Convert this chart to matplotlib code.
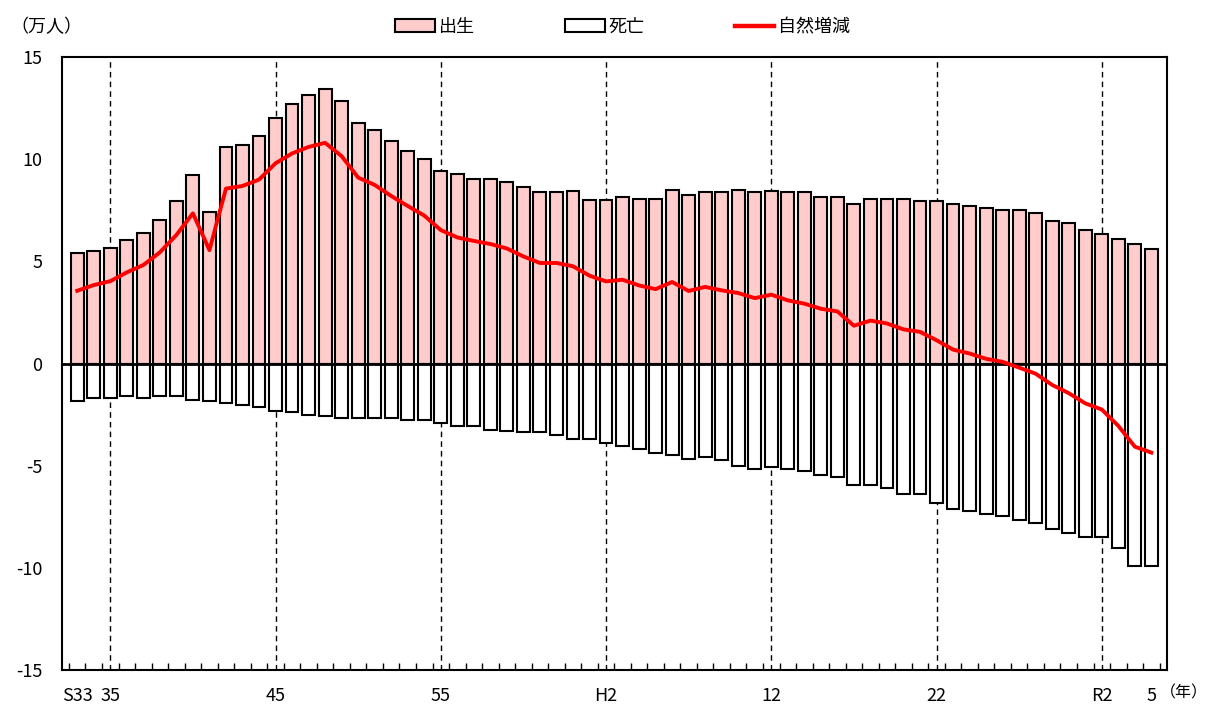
import numpy as np
import matplotlib.pyplot as plt
from matplotlib.patches import Patch
from matplotlib.lines import Line2D

plt.rcParams['font.family'] = ['Noto Sans CJK JP', 'DejaVu Sans']
plt.rcParams['axes.unicode_minus'] = False

# 昭和33年(1958) ～ 令和5年(2023)
years = list(range(1958, 2024))

births = [5.41, 5.49, 5.67, 6.04, 6.41, 7.04, 7.96, 9.23, 7.41, 10.6, 10.68, 11.14,
          12.04, 12.7, 13.15, 13.42, 12.87, 11.78, 11.41, 10.87, 10.41, 10.03,
          9.42, 9.28, 9.03, 9.03, 8.9, 8.63, 8.37, 8.37, 8.45, 8.0,
          8.0, 8.14, 8.04, 8.04, 8.5, 8.24, 8.37, 8.37, 8.5, 8.37,
          8.45, 8.37, 8.37, 8.17, 8.17, 7.79, 8.06, 8.06, 8.06, 7.97,
          7.97, 7.79, 7.69, 7.6, 7.52, 7.52, 7.35, 6.99, 6.89, 6.53,
          6.33, 6.07, 5.87, 5.6]

deaths = [1.85, 1.68, 1.68, 1.57, 1.68, 1.57, 1.6, 1.8, 1.85, 1.93, 2.01, 2.14,
          2.3, 2.39, 2.5, 2.58, 2.66, 2.66, 2.66, 2.66, 2.78, 2.78,
          2.91, 3.04, 3.04, 3.24, 3.28, 3.37, 3.37, 3.48, 3.68, 3.68,
          3.9, 4.02, 4.18, 4.38, 4.48, 4.66, 4.56, 4.72, 5.02, 5.18,
          5.08, 5.18, 5.28, 5.47, 5.54, 5.93, 5.93, 6.09, 6.39, 6.39,
          6.85, 7.11, 7.21, 7.37, 7.45, 7.65, 7.83, 8.1, 8.28, 8.48,
          8.48, 9.02, 9.93, 9.93]

natural = [3.56, 3.84, 4.03, 4.46, 4.82, 5.44, 6.29, 7.35, 5.55, 8.56, 8.69, 9.0,
           9.8, 10.28, 10.6, 10.8, 10.15, 9.1, 8.74, 8.2, 7.71, 7.24,
           6.53, 6.17, 6.0, 5.85, 5.63, 5.24, 4.92, 4.92, 4.76, 4.3,
           4.02, 4.1, 3.82, 3.64, 3.99, 3.55, 3.75, 3.58, 3.45, 3.2,
           3.37, 3.09, 2.93, 2.68, 2.55, 1.85, 2.1, 1.96, 1.67, 1.55,
           1.14, 0.68, 0.49, 0.23, 0.08, -0.2, -0.5, -1.05, -1.45, -1.95,
           -2.25, -3.05, -4.07, -4.36]

label_years = [1958, 1960, 1970, 1980, 1990, 2000, 2010, 2020, 2023]
tick_labels = ['S33', '35', '45', '55', 'H2', '12', '22', 'R2', '5']
guide_years = [1960, 1970, 1980, 1990, 2000, 2010, 2020]

x = np.arange(len(years))

fig = plt.figure(figsize=(12.09, 7.04), dpi=100)
ax = fig.add_axes([0.0513, 0.0483, 0.914, 0.8707])

# dashed guides behind the bars
for gy in guide_years:
    ax.axvline(years.index(gy), color='black', linestyle=(0, (4, 3)), lw=1.0, zorder=1)

ax.bar(x, births, width=0.78, color='#ffcccc', edgecolor='black', lw=1.5, zorder=2)
ax.bar(x, -np.array(deaths), width=0.78, color='white', edgecolor='black', lw=1.5, zorder=2)
ax.axhline(0, color='black', lw=2.0, zorder=3)
ax.plot(x, natural, color='red', lw=2.8, zorder=4, solid_joinstyle='round')

ax.set_xlim(-0.92, 65.95)
ax.set_ylim(-15, 15)
ax.set_yticks(np.arange(-15, 16, 5))
ax.tick_params(axis='y', length=0, pad=14, labelsize=13)

ax.set_xticks([years.index(y) for y in label_years])
ax.set_xticklabels(tick_labels)
ax.set_xticks(np.arange(-0.5, len(years), 1.0), minor=True)
ax.tick_params(axis='x', which='major', length=0, pad=12, labelsize=13)
ax.tick_params(axis='x', which='minor', direction='in', length=5, width=1)

for s in ax.spines.values():
    s.set_linewidth(1.5)

fig.text(0.0085, 0.9616, '（万人）', fontsize=13, va='center', ha='left')
fig.text(0.999, 0.016, '（年）', fontsize=11.5, va='center', ha='right')

handles = [Patch(facecolor='#ffcccc', edgecolor='black', lw=1.5),
           Patch(facecolor='white', edgecolor='black', lw=1.5),
           Line2D([0], [0], color='red', lw=3.2)]
fig.legend(handles, ['出生', '死亡', '自然増減'], loc='center', ncol=3,
           bbox_to_anchor=(0.515, 0.9616), frameon=False, fontsize=13,
           handlelength=2.2, handletextpad=0.2, columnspacing=5.0)

fig.savefig('out.png', dpi=100)
